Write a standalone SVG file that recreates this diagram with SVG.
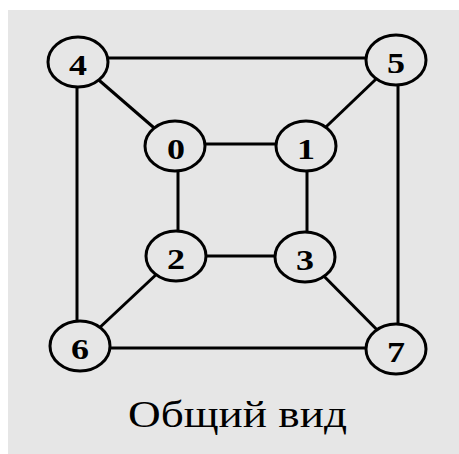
<svg xmlns="http://www.w3.org/2000/svg" width="459" height="454" viewBox="0 0 459 454">
<style>
.e{stroke:#000;stroke-width:3;fill:none}
.n ellipse{fill:#e6e6e6;stroke:#000;stroke-width:3}
.n text{font-family:"Liberation Serif",serif;font-weight:bold;font-size:30px;text-anchor:middle;fill:#000}
.cap{font-family:"Liberation Serif",serif;font-size:37px;fill:#000}
</style>
<rect x="0" y="0" width="459" height="454" fill="#fff"/>
<rect x="8" y="10" width="451" height="444" fill="#e6e6e6"/>
<g id="edges">
<line class="e" x1="78" y1="58" x2="396" y2="58"/>
<line class="e" x1="77" y1="62" x2="77" y2="346"/>
<line class="e" x1="398" y1="60" x2="398" y2="349"/>
<line class="e" x1="80" y1="348" x2="396" y2="348"/>
<line class="e" x1="78" y1="62" x2="175" y2="146"/>
<line class="e" x1="396" y1="60" x2="306" y2="146"/>
<line class="e" x1="176" y1="256" x2="80" y2="346"/>
<line class="e" x1="305" y1="257" x2="396" y2="349"/>
<line class="e" x1="175" y1="144" x2="306" y2="144"/>
<line class="e" x1="176" y1="256" x2="305" y2="256"/>
<line class="e" x1="178" y1="146" x2="178" y2="256"/>
<line class="e" x1="307" y1="146" x2="307" y2="257"/>
</g>
<g id="n4" class="n"><ellipse cx="78" cy="62" rx="30" ry="25"/><text transform="translate(78,75) scale(1.2,1)">4</text></g>
<g id="n5" class="n"><ellipse cx="396" cy="60" rx="30" ry="25"/><text transform="translate(396,73) scale(1.2,1)">5</text></g>
<g id="n0" class="n"><ellipse cx="175" cy="146" rx="30" ry="25"/><text transform="translate(176,159) scale(1.2,1)">0</text></g>
<g id="n1" class="n"><ellipse cx="306" cy="146" rx="30" ry="25"/><text transform="translate(306,159) scale(1.2,1)">1</text></g>
<g id="n2" class="n"><ellipse cx="176" cy="256" rx="30" ry="25"/><text transform="translate(176,269) scale(1.2,1)">2</text></g>
<g id="n3" class="n"><ellipse cx="305" cy="257" rx="30" ry="25"/><text transform="translate(305,270) scale(1.2,1)">3</text></g>
<g id="n6" class="n"><ellipse cx="80" cy="346" rx="30" ry="25"/><text transform="translate(80,359) scale(1.2,1)">6</text></g>
<g id="n7" class="n"><ellipse cx="396" cy="349" rx="30" ry="25"/><text transform="translate(396,362) scale(1.2,1)">7</text></g>
<text class="cap" x="128" y="427" textLength="219" lengthAdjust="spacingAndGlyphs">Общий вид</text>
</svg>
